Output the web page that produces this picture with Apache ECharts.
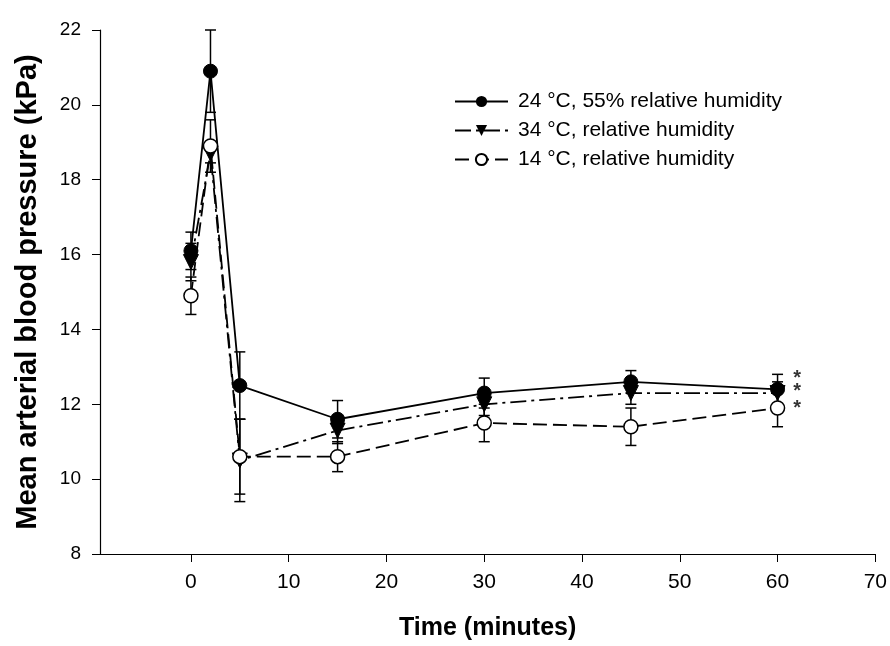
<!DOCTYPE html>
<html>
<head>
<meta charset="utf-8">
<script src="https://cdn.jsdelivr.net/npm/echarts@6/dist/echarts.min.js"></script>
<style>html,body{margin:0;padding:0;background:#fff}#c{width:890px;height:646px}</style>
</head>
<body>
<div id="c"></div>
<script>
const xTimes = [0, 2, 5, 15, 30, 45, 60];
const names = ['24 °C, 55% relative humidity', '34 °C, relative humidity', '14 °C, relative humidity'];
const s24 = [16.1, 20.9, 12.5, 11.6, 12.3, 12.6, 12.4];
const e24 = [0.5, 1.1, 0.9, 0.5, 0.4, 0.3, 0.4];
const s34 = [15.8, 18.7, 10.5, 11.3, 12.0, 12.3, 12.3];
const e34 = [0.5, 0.25, 1.1, 0.35, 0.3, 0.3, 0.3];
const s14 = [14.9, 18.9, 10.6, 10.6, 11.5, 11.4, 11.9];
const e14 = [0.5, 0.7, 1.0, 0.4, 0.5, 0.5, 0.5];
const xTicks = [0, 10, 20, 30, 40, 50, 60, 70];
const starX = [62, 62, 62];
const starY = [12.86, 12.49, 12.04];

const font = '"Liberation Sans", Arial, sans-serif';
const chart = echarts.init(document.getElementById('c'));

function pts(vals) { return xTimes.map((x, i) => [x, vals[i]]); }
function errData(vals, errs) { return xTimes.map((x, i) => [x, vals[i] - errs[i], vals[i] + errs[i]]); }
function errSeries(vals, errs) {
  return {
    type: 'custom', z: 1, silent: true,
    data: errData(vals, errs),
    renderItem: function (params, api) {
      const x = api.value(0);
      const lo = api.coord([x, api.value(1)]);
      const hi = api.coord([x, api.value(2)]);
      const w = 5.5;
      const st = { stroke: '#000', lineWidth: 1.5 };
      return {
        type: 'group', children: [
          { type: 'line', shape: { x1: lo[0], y1: lo[1], x2: hi[0], y2: hi[1] }, style: st },
          { type: 'line', shape: { x1: lo[0] - w, y1: lo[1], x2: lo[0] + w, y2: lo[1] }, style: st },
          { type: 'line', shape: { x1: hi[0] - w, y1: hi[1], x2: hi[0] + w, y2: hi[1] }, style: st }
        ]
      };
    }
  };
}

const option = {
  animation: false,
  backgroundColor: '#fff',
  grid: { left: 100, right: 13, top: 30, bottom: 90 },
  legend: {
    orient: 'vertical', left: 449, top: 86, itemGap: 8,
    itemWidth: 53, itemHeight: 14,
    textStyle: { fontFamily: font, fontSize: 21, color: '#000', padding: [0, 0, 0, 5] },
    data: names
  },
  xAxis: {
    type: 'value', min: -9.3, max: 70,
    name: 'Time (minutes)', nameLocation: 'middle', nameGap: 62,
    nameTextStyle: { fontFamily: font, fontSize: 25, fontWeight: 'bold', color: '#000' },
    axisLine: { onZero: false, lineStyle: { color: '#000', width: 1.2 } },
    axisTick: { show: true, length: 8, customValues: xTicks, lineStyle: { color: '#000' } },
    axisLabel: { customValues: xTicks, margin: 18, fontFamily: font, fontSize: 21, color: '#000' },
    splitLine: { show: false }
  },
  yAxis: {
    type: 'value', min: 8, max: 22, interval: 2,
    name: 'Mean arterial blood pressure (kPa)', nameLocation: 'middle', nameGap: 58,
    nameTextStyle: { fontFamily: font, fontSize: 29, fontWeight: 'bold', color: '#000' },
    axisLine: { show: true, onZero: false, lineStyle: { color: '#000', width: 1.2 } },
    axisTick: { show: true, length: 8, lineStyle: { color: '#000' } },
    axisLabel: { margin: 19, fontFamily: font, fontSize: 19, color: '#000' },
    splitLine: { show: false }
  },
  series: [
    errSeries(s24, e24), errSeries(s34, e34), errSeries(s14, e14),
    {
      name: names[0], type: 'line', z: 3, data: pts(s24),
      symbol: 'circle', symbolSize: 14,
      lineStyle: { color: '#000', width: 1.8, type: 'solid' },
      itemStyle: { color: '#000', borderColor: '#000' }
    },
    {
      name: names[1], type: 'line', z: 3, data: pts(s34),
      symbol: 'triangle', symbolSize: 15, symbolRotate: 180,
      lineStyle: { color: '#000', width: 1.8, type: [16, 5, 3, 5] },
      itemStyle: { color: '#000', borderColor: '#000' }
    },
    {
      name: names[2], type: 'line', z: 4, data: pts(s14),
      symbol: 'circle', symbolSize: 14,
      lineStyle: { color: '#000', width: 1.8, type: [14, 6] },
      itemStyle: { color: '#fff', borderColor: '#000', borderWidth: 1.5 }
    },
    {
      type: 'scatter', z: 5, silent: true, symbolSize: 1,
      itemStyle: { color: 'rgba(0,0,0,0)' },
      data: starX.map((x, i) => [x, starY[i]]),
      label: { show: true, position: 'inside', offset: [0, 6], formatter: '*', fontFamily: font, fontSize: 20, fontWeight: 'bold', color: '#000' }
    }
  ]
};
chart.setOption(option);
</script>
</body>
</html>
